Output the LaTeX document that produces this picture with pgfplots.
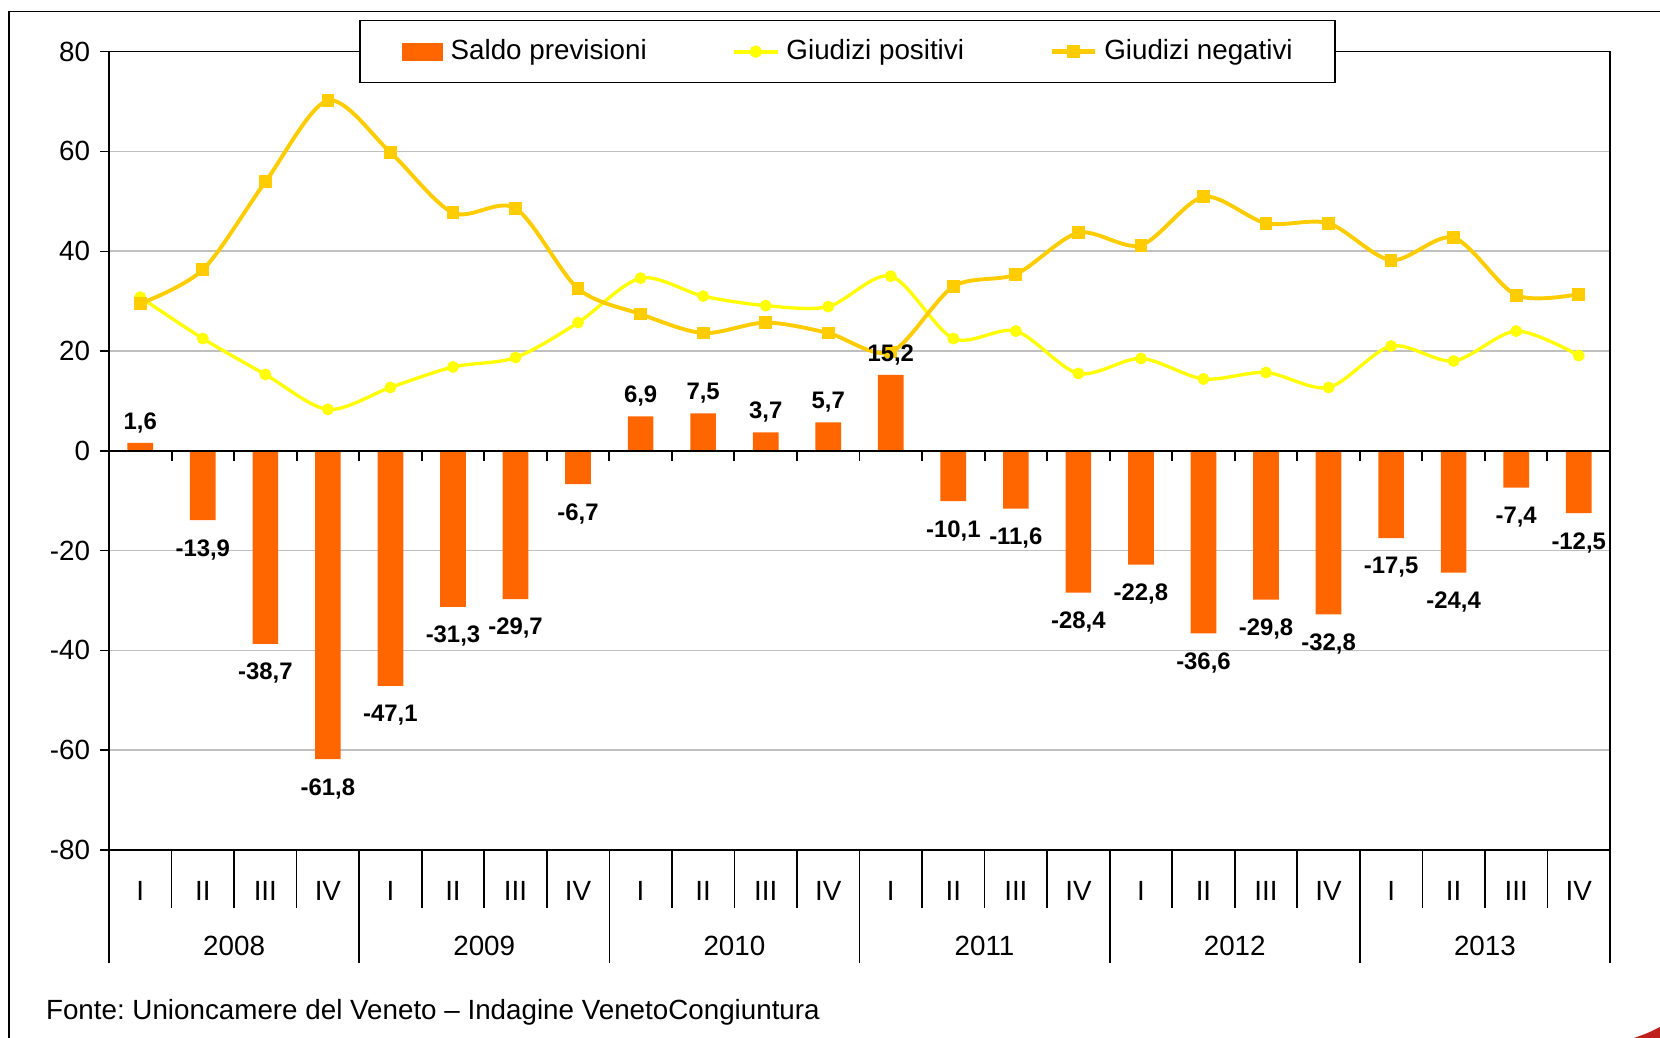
\documentclass[border=0pt]{standalone}
\usepackage{pgfplots}
\pgfplotsset{compat=1.18}
\usepackage{fontspec}
\setmainfont{Liberation Sans}
\frenchspacing
\definecolor{saldo}{HTML}{FF6600}
\definecolor{gpos}{HTML}{FFFF00}
\definecolor{gneg}{HTML}{FFCC00}
\definecolor{gridc}{HTML}{C0C0C0}
\definecolor{logored}{HTML}{C0201C}
\pgfplotsset{
  barlabels/.style={
    nodes near coords={\pgfmathprintnumber[fixed,fixed zerofill,precision=1,use comma,assume math mode=true]{\pgfplotspointmeta}},
    nodes near coords align={vertical},
    visualization depends on={rawy \as \rawy},
    every node near coord/.append style={font=\bfseries\fontsize{8.6}{10}\selectfont, text=black, yshift={-3.4*(\rawy<0)}},
  }
}
\begin{document}
\begin{tikzpicture}
\begin{scope}[shift={(-39.24pt,306pt)}, x=0.36pt, y=-0.36pt]
  \useasboundingbox (0,0) rectangle (1660,1038);
  \draw[line width=0.5pt] (9,1100) -- (9,11.7) -- (1700,11.7);
  \node[anchor=west, inner sep=0pt, font=\fontsize{10}{12}\selectfont] at (45.5,1012) {Fonte: Unioncamere del Veneto – Indagine VenetoCongiuntura};
  \fill[logored] (1634,1038) .. controls (1648,1033) .. (1660,1027) -- (1660,1038) -- cycle;
\end{scope}
\begin{axis}[
  at={(0,0)}, anchor=south west,
  scale only axis, width=540.36pt, height=287.4pt,
  xmin=-0.5, xmax=23.5, ymin=-80, ymax=80,
  ytick={-80,-60,-40,-20,0,20,40,60,80},
  ytick pos=left,
  xtick={0,...,23},
  xticklabels={I,II,III,IV,I,II,III,IV,I,II,III,IV,I,II,III,IV,I,II,III,IV,I,II,III,IV},
  xtick style={draw=none},
  xticklabel style={anchor=center, yshift=-11.4pt},
  ytick style={black, line width=0.5pt},
  tick align=outside,
  major tick length=3.3pt,
  yticklabel style={anchor=east},
  tick label style={font=\fontsize{10}{12}\selectfont},
  /pgf/number format/assume math mode=true,
  ymajorgrids,
  grid style={gridc, line width=0.6pt},
  axis line style={black, line width=0.5pt},
  clip=false,
  legend style={at={(0.492,1)}, anchor=center, draw=black, line width=0.5pt, fill=white,
    inner xsep=15.3pt, inner ysep=6.8pt, font=\fontsize{10}{12}\selectfont,
    nodes={inner sep=0pt},
    /tikz/every odd column/.append style={column sep=2.6pt},
    /tikz/every even column/.append style={column sep=30.8pt}},
  legend columns=3,
  legend cell align=left,
]
\addplot[ybar, bar width=0.41, bar shift=0pt, fill=saldo, draw=none,
  legend image code/.code={\fill[saldo] (0pt,-3.25pt) rectangle (14.8pt,3.25pt);},
] coordinates {
  (0,1.6) (1,-13.9) (2,-38.7) (3,-61.8) (4,-47.1) (5,-31.3) (6,-29.7) (7,-6.7)
  (8,6.9) (9,7.5) (10,3.7) (11,5.7) (12,15.2) (13,-10.1) (14,-11.6) (15,-28.4)
  (16,-22.8) (17,-36.6) (18,-29.8) (19,-32.8) (20,-17.5) (21,-24.4) (22,-7.4) (23,-12.5)
};
\addlegendentry{Saldo previsioni}
\addplot[color=gpos, line width=1.2pt, smooth, mark=*, mark size=1.5pt, mark options={fill=gpos, draw=gpos},
  legend image code/.code={\draw[gpos, line width=1.4pt, mark=*, mark size=1.5pt, mark options={fill=gpos, draw=gpos}, mark repeat=2, mark phase=2] plot coordinates {(0pt,0pt) (7.75pt,0pt) (15.5pt,0pt)};},
] coordinates {
  (0,30.8) (1,22.5) (2,15.3) (3,8.3) (4,12.7) (5,16.8) (6,18.7) (7,25.7)
  (8,34.6) (9,31.0) (10,29.1) (11,28.9) (12,35.0) (13,22.5) (14,24.0) (15,15.5)
  (16,18.5) (17,14.4) (18,15.7) (19,12.7) (20,21.0) (21,18.0) (22,24.0) (23,19.1)
};
\addlegendentry{Giudizi positivi}
\addplot[color=gneg, line width=1.4pt, smooth, mark=square*, mark size=1.6pt, mark options={fill=gneg, draw=gneg},
  legend image code/.code={\draw[gneg, line width=1.6pt, mark=square*, mark size=1.6pt, mark options={fill=gneg, draw=gneg}, mark repeat=2, mark phase=2] plot coordinates {(0pt,0pt) (7.75pt,0pt) (15.5pt,0pt)};},
] coordinates {
  (0,29.5) (1,36.3) (2,53.9) (3,70.2) (4,59.8) (5,47.7) (6,48.6) (7,32.5)
  (8,27.4) (9,23.6) (10,25.7) (11,23.6) (12,19.8) (13,32.9) (14,35.4) (15,43.7)
  (16,41.2) (17,50.9) (18,45.6) (19,45.6) (20,38.2) (21,42.7) (22,31.2) (23,31.4)
};
\addlegendentry{Giudizi negativi}
\addplot[ybar, bar width=0.41, bar shift=0pt, fill=none, draw=none, forget plot, barlabels] coordinates {
  (0,1.6) (1,-13.9) (2,-38.7) (3,-61.8) (4,-47.1) (5,-31.3) (6,-29.7) (7,-6.7)
  (8,6.9) (9,7.5) (10,3.7) (11,5.7) (12,15.2) (13,-10.1) (14,-11.6) (15,-28.4)
  (16,-22.8) (17,-36.6) (18,-29.8) (19,-32.8) (20,-17.5) (21,-24.4) (22,-7.4) (23,-12.5)
};
\draw[black, line width=0.7pt] (axis cs:-0.5,0) -- (axis cs:23.5,0);
\pgfplotsinvokeforeach{-0.5,0.5,...,23.5}{
  \draw[black, line width=0.7pt] (axis cs:#1,0) -- ++(0pt,-3.6pt);
  \draw[black, line width=0.6pt] (axis cs:#1,-80) -- ++(0pt,-20.9pt);
}
\pgfplotsinvokeforeach{-0.5,3.5,...,23.5}{
  \draw[black, line width=0.6pt] (axis cs:#1,-80) -- ++(0pt,-40.7pt);
}
\node[font=\fontsize{10}{12}\selectfont] at (axis cs:1.5,-80) [yshift=-34.5pt] {2008};
\node[font=\fontsize{10}{12}\selectfont] at (axis cs:5.5,-80) [yshift=-34.5pt] {2009};
\node[font=\fontsize{10}{12}\selectfont] at (axis cs:9.5,-80) [yshift=-34.5pt] {2010};
\node[font=\fontsize{10}{12}\selectfont] at (axis cs:13.5,-80) [yshift=-34.5pt] {2011};
\node[font=\fontsize{10}{12}\selectfont] at (axis cs:17.5,-80) [yshift=-34.5pt] {2012};
\node[font=\fontsize{10}{12}\selectfont] at (axis cs:21.5,-80) [yshift=-34.5pt] {2013};
\end{axis}
\end{tikzpicture}
\end{document}
